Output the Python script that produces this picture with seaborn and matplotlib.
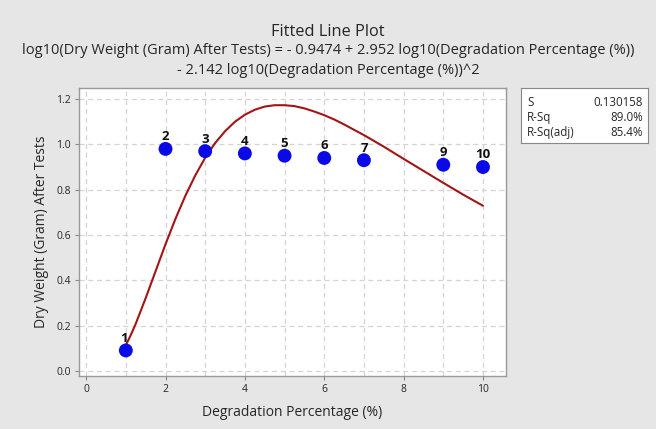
import numpy as np
import pandas as pd
import seaborn as sns
import matplotlib.pyplot as plt

# observed points
degradation = [1, 2, 3, 4, 5, 6, 7, 9, 10]
dry_weight = [0.09, 0.98, 0.97, 0.96, 0.95, 0.94, 0.93, 0.91, 0.90]
point_labels = ['1', '2', '3', '4', '5', '6', '7', '9', '10']

# fitted curve
fit_x = [1, 1.125, 1.25, 1.5, 1.75, 2, 2.25, 2.5, 2.75, 3, 3.25, 3.5, 3.75, 4,
         4.25, 4.5, 4.75, 5, 5.25, 5.5, 5.75, 6, 6.25, 6.5, 7, 7.5, 8, 8.5, 9,
         9.5, 10]
fit_y = [0.113, 0.158, 0.208, 0.321, 0.440, 0.559, 0.671, 0.773, 0.863, 0.941,
         1.006, 1.058, 1.100, 1.131, 1.153, 1.167, 1.173, 1.173, 1.169, 1.159,
         1.145, 1.129, 1.110, 1.088, 1.041, 0.990, 0.936, 0.883, 0.830, 0.778,
         0.729]

stats_names = ['S', 'R-Sq', 'R-Sq(adj)']
stats_vals = ['0.130158', '89.0%', '85.4%']

sns.set_style('white')
plt.rcParams['font.family'] = ['Open Sans', 'DejaVu Sans']

df = pd.DataFrame({'x': degradation, 'y': dry_weight})
fit = pd.DataFrame({'x': fit_x, 'y': fit_y})

fig = plt.figure(figsize=(6.56, 4.29), dpi=100, facecolor='#e6e6e6')
ax = fig.add_axes([79 / 656, 1 - 376 / 429, 427 / 656, 288 / 429])

sns.lineplot(data=fit, x='x', y='y', color='#a31515', linewidth=1.5, ax=ax, zorder=2)
sns.scatterplot(data=df, x='x', y='y', color='#0a0ae6', s=100, edgecolor='none', ax=ax, zorder=3)

for x, y, lab in zip(degradation, dry_weight, point_labels):
    dx = -0.05 if lab == '1' else 0
    ax.text(x + dx, y + 0.025, lab, ha='center', va='bottom', fontsize=9.5,
            fontweight='bold', color='#111111', zorder=4)

ax.set_xlim(-0.18, 10.58)
ax.set_ylim(-0.023, 1.249)
ax.set_xticks([0, 2, 4, 6, 8, 10])
ax.set_xticks(range(0, 11), minor=True)
ax.set_yticks([0.0, 0.2, 0.4, 0.6, 0.8, 1.0, 1.2])
ax.set_yticklabels(['0.0', '0.2', '0.4', '0.6', '0.8', '1.0', '1.2'])
ax.grid(True, which='both', linestyle=(0, (4, 3)), color='#d4d4d4', linewidth=0.9)
ax.set_axisbelow(True)
ax.tick_params(axis='both', which='major', labelsize=7.5, length=3, color='#888888',
               direction='out', bottom=True, left=True, pad=3)
ax.tick_params(axis='x', which='minor', length=0)
for s in ax.spines.values():
    s.set_color('#999999')
    s.set_linewidth(1)
ax.set_xlabel('Degradation Percentage (%)', fontsize=10, labelpad=7)
ax.set_ylabel('Dry Weight (Gram) After Tests', fontsize=10, labelpad=5)

fig.text(0.5, 1 - 32 / 429, 'Fitted Line Plot', ha='center', va='center', fontsize=11.8)
fig.text(0.5, 1 - 50 / 429,
         'log10(Dry Weight (Gram) After Tests) = - 0.9474 + 2.952 log10(Degradation Percentage (%))',
         ha='center', va='center', fontsize=10.5)
fig.text(0.5, 1 - 71 / 429, '- 2.142 log10(Degradation Percentage (%))^2',
         ha='center', va='center', fontsize=10.5)

# stats box
bx = fig.add_axes([521 / 656, 1 - 143 / 429, 127 / 656, 55 / 429])
bx.set_xlim(0, 1)
bx.set_ylim(0, 1)
bx.set_xticks([])
bx.set_yticks([])
for s in bx.spines.values():
    s.set_color('#888888')
    s.set_linewidth(0.8)
for i, (n, v) in enumerate(zip(stats_names, stats_vals)):
    yy = 0.73 - i * 0.27
    bx.text(0.05, yy, n, ha='left', va='center', fontsize=8.3)
    bx.text(0.96, yy, v, ha='right', va='center', fontsize=8.3)

fig.savefig('out.png', dpi=100, facecolor=fig.get_facecolor())
